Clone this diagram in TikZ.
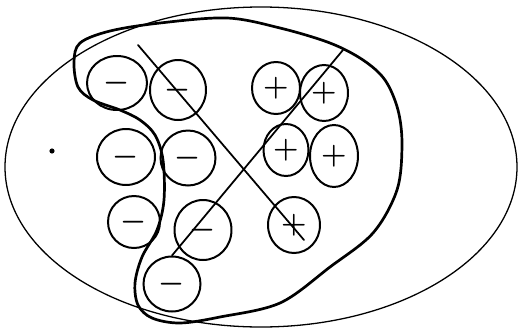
\documentclass[tikz,border=0pt]{standalone}
\usetikzlibrary{shapes.geometric}
\tikzset{
  blob/.style 2 args={draw,ellipse,line width=1.7pt,inner sep=0pt,
    minimum width=#1*0.03cm,minimum height=#2*0.03cm,
    font=\fontsize{24}{24}\selectfont\boldmath},
  stroke/.style={line width=1.5pt,line cap=round},
}

\begin{document}
\begin{tikzpicture}[x=0.03cm,y=-0.03cm]
  \useasboundingbox (0,0) rectangle (520,331);
  % outer set
  \draw[line width=1.1pt] (261,167) ellipse [x radius=256, y radius=160];
  \fill (52,151) circle [radius=2.6];
  % minus charges
  \node[blob={60}{54}] (m1) at (117,83) {$-$};
  \node[blob={56}{60}] (m2) at (178,90) {$-$};
  \node[blob={58}{56}] (m3) at (126,157) {$-$};
  \node[blob={55}{55}] (m4) at (188,158) {$-$};
  \node[blob={52}{52}] (m5) at (134,222) {$-$};
  \node[blob={57}{60}] (m6) at (203,230) {$-$};
  \node[blob={57}{55}] (m7) at (172,284) {$-$};
  % plus charges
  \node[blob={48}{52}] (p1) at (276,88) {$+$};
  \node[blob={48}{56}] (p2) at (324,93) {$+$};
  \node[blob={45}{52}] (p3) at (286,150) {$+$};
  \node[blob={48}{62}] (p4) at (334,156) {$+$};
  \node[blob={52}{56}] (p5) at (294,225) {$+$};
  % boundary drawn round the group
  \draw[line width=2.3pt,line join=round] plot[smooth cycle,tension=0.55] coordinates {
    (80,43) (110,31) (160,23) (227,18) (280,28) (330,43) (363,60) (385,80)
    (398,110) (402,145) (397,190) (373,233) (330,267) (280,303) (220,317)
    (180,323) (152,318) (138,305) (135,283) (142,257) (157,230) (164,200)
    (163,160) (155,135) (140,120) (120,110) (93,100) (78,87) (74,62)};
  % crossing strokes
  \coordinate (a1) at (138,45);
  \coordinate (a2) at (304,240);
  \coordinate (b1) at (343,50);
  \draw[stroke] (a1) -- (a2);
  \draw[stroke] (b1) -- (m7.north);
\end{tikzpicture}
\end{document}
